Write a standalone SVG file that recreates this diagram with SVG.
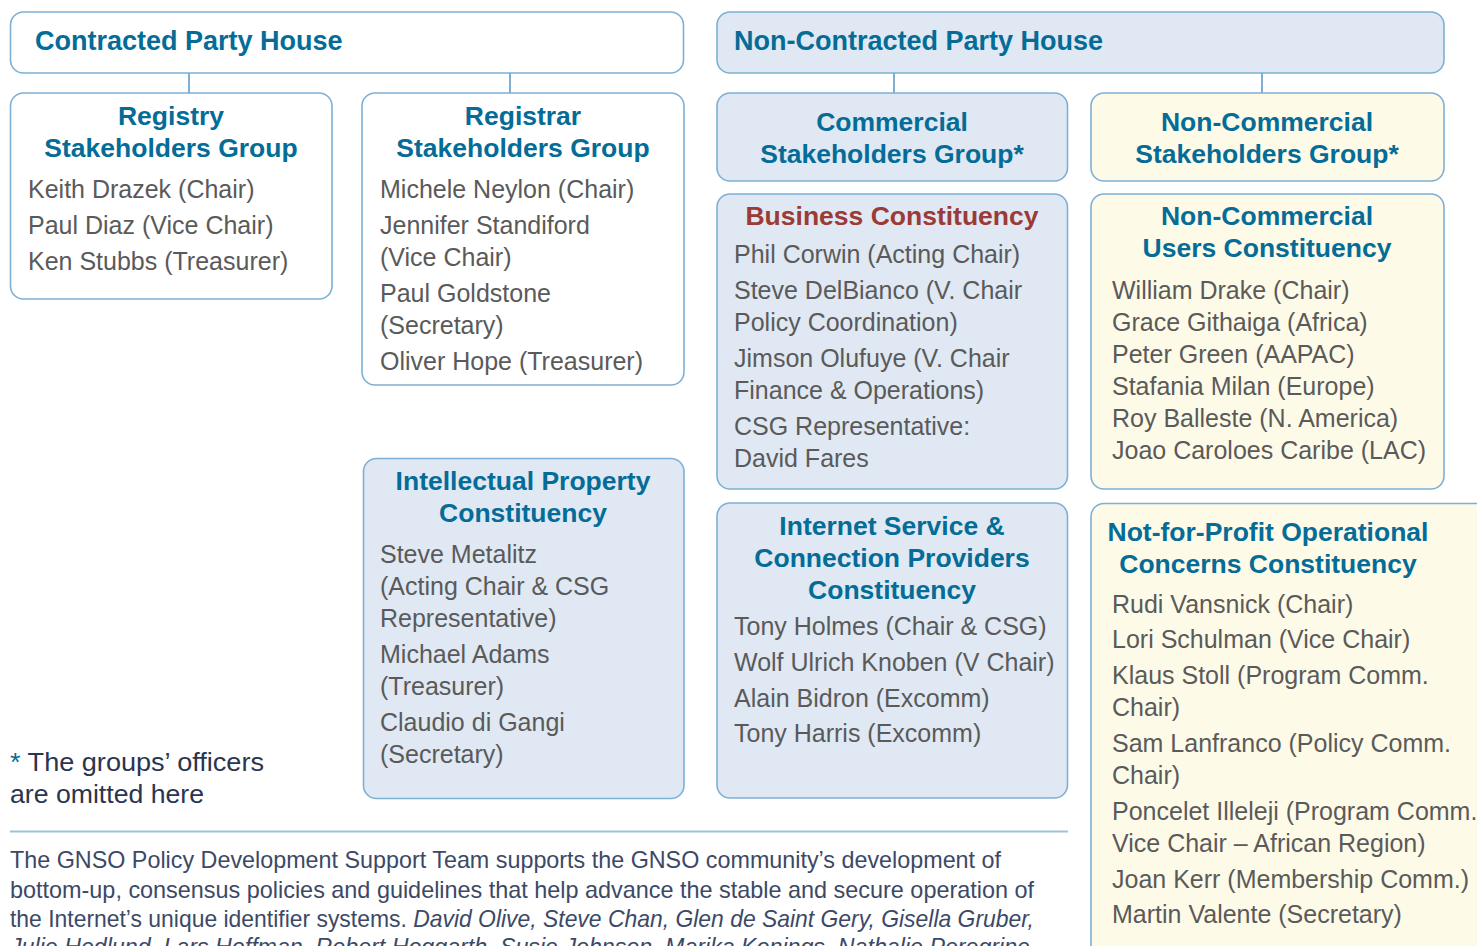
<svg xmlns="http://www.w3.org/2000/svg" width="1477" height="946" viewBox="0 0 1477 946">
<style>
.box{stroke:#7eb0d6;stroke-width:1.6}
.w{fill:#ffffff}
.b{fill:#dfe8f3}
.y{fill:#fefae8}
.h{font-family:"Liberation Sans",Arial,sans-serif;font-weight:bold;font-size:26.5px;fill:#046c97}
.hc{text-anchor:middle}
.red{fill:#9c3a36}
.t{font-family:"Liberation Sans",Arial,sans-serif;font-size:25px;fill:#5a5a5a}
.n{font-family:"Liberation Sans",Arial,sans-serif;font-size:24px;fill:#3c4966}
.f{font-family:"Liberation Sans",Arial,sans-serif;font-size:25px;fill:#2a3550}
.conn{stroke:#7eb0d6;stroke-width:2;fill:none}
</style>
<rect width="1477" height="946" fill="#ffffff"/>
<g id="connectors">
<line class="conn" x1="189" y1="73" x2="189" y2="93"/>
<line class="conn" x1="510" y1="73" x2="510" y2="93"/>
<line class="conn" x1="894" y1="73" x2="894" y2="93"/>
<line class="conn" x1="1262" y1="73" x2="1262" y2="93"/>
</g>
<g id="contracted-house">
<rect class="box w" x="10.5" y="12" width="673" height="61" rx="13"/>
<text class="h" x="35" y="50" style="font-size:27px">Contracted Party House</text>
</g>
<g id="noncontracted-house">
<rect class="box b" x="717" y="12" width="727" height="61" rx="13"/>
<text class="h" x="734" y="50" style="font-size:27px">Non-Contracted Party House</text>
</g>
<g id="registry-sg">
<rect class="box w" x="10.5" y="93" width="321.5" height="206" rx="13"/>
<text class="h hc" x="171" y="125">Registry</text>
<text class="h hc" x="171" y="157">Stakeholders Group</text>
<text class="t" x="28" y="198">Keith Drazek (Chair)</text>
<text class="t" x="28" y="234">Paul Diaz (Vice Chair)</text>
<text class="t" x="28" y="270">Ken Stubbs (Treasurer)</text>
</g>
<g id="registrar-sg">
<rect class="box w" x="362" y="93" width="322" height="292" rx="13"/>
<text class="h hc" x="523" y="125">Registrar</text>
<text class="h hc" x="523" y="157">Stakeholders Group</text>
<text class="t" x="380" y="198">Michele Neylon (Chair)</text>
<text class="t" x="380" y="234">Jennifer Standiford</text>
<text class="t" x="380" y="266">(Vice Chair)</text>
<text class="t" x="380" y="302">Paul Goldstone</text>
<text class="t" x="380" y="334">(Secretary)</text>
<text class="t" x="380" y="370">Oliver Hope (Treasurer)</text>
</g>
<g id="commercial-sg">
<rect class="box b" x="717" y="93" width="350.5" height="88" rx="13"/>
<text class="h hc" x="892" y="131">Commercial</text>
<text class="h hc" x="892" y="163">Stakeholders Group*</text>
</g>
<g id="noncommercial-sg">
<rect class="box y" x="1091" y="93" width="353" height="88" rx="13"/>
<text class="h hc" x="1267" y="131">Non-Commercial</text>
<text class="h hc" x="1267" y="163">Stakeholders Group*</text>
</g>
<g id="business-constituency">
<rect class="box b" x="717" y="194" width="350.5" height="295" rx="13"/>
<text class="h hc red" x="892" y="225">Business Constituency</text>
<text class="t" x="734" y="263">Phil Corwin (Acting Chair)</text>
<text class="t" x="734" y="299">Steve DelBianco (V. Chair</text>
<text class="t" x="734" y="331">Policy Coordination)</text>
<text class="t" x="734" y="367">Jimson Olufuye (V. Chair</text>
<text class="t" x="734" y="399">Finance &amp; Operations)</text>
<text class="t" x="734" y="435">CSG Representative:</text>
<text class="t" x="734" y="467">David Fares</text>
</g>
<g id="ncuc">
<rect class="box y" x="1091" y="194" width="353" height="295" rx="13"/>
<text class="h hc" x="1267" y="225">Non-Commercial</text>
<text class="h hc" x="1267" y="257">Users Constituency</text>
<text class="t" x="1112" y="299">William Drake (Chair)</text>
<text class="t" x="1112" y="331">Grace Githaiga (Africa)</text>
<text class="t" x="1112" y="363">Peter Green (AAPAC)</text>
<text class="t" x="1112" y="395">Stafania Milan (Europe)</text>
<text class="t" x="1112" y="427">Roy Balleste (N. America)</text>
<text class="t" x="1112" y="459">Joao Caroloes Caribe (LAC)</text>
</g>
<g id="ipc">
<rect class="box b" x="363.5" y="458.5" width="320.5" height="340" rx="13"/>
<text class="h hc" x="523" y="490">Intellectual Property</text>
<text class="h hc" x="523" y="522">Constituency</text>
<text class="t" x="380" y="563">Steve Metalitz</text>
<text class="t" x="380" y="595">(Acting Chair &amp; CSG</text>
<text class="t" x="380" y="627">Representative)</text>
<text class="t" x="380" y="663">Michael Adams</text>
<text class="t" x="380" y="695">(Treasurer)</text>
<text class="t" x="380" y="731">Claudio di Gangi</text>
<text class="t" x="380" y="763">(Secretary)</text>
</g>
<g id="ispcp">
<rect class="box b" x="717" y="503" width="350.5" height="295" rx="13"/>
<text class="h hc" x="892" y="535">Internet Service &amp;</text>
<text class="h hc" x="892" y="567">Connection Providers</text>
<text class="h hc" x="892" y="599">Constituency</text>
<text class="t" x="734" y="635">Tony Holmes (Chair &amp; CSG)</text>
<text class="t" x="734" y="671">Wolf Ulrich Knoben (V Chair)</text>
<text class="t" x="734" y="707">Alain Bidron (Excomm)</text>
<text class="t" x="734" y="742">Tony Harris (Excomm)</text>
</g>
<g id="npoc">
<rect class="box y" x="1091" y="503.5" width="420" height="500" rx="13"/>
<text class="h hc" x="1268" y="541">Not-for-Profit Operational</text>
<text class="h hc" x="1268" y="573">Concerns Constituency</text>
<text class="t" x="1112" y="613">Rudi Vansnick (Chair)</text>
<text class="t" x="1112" y="648">Lori Schulman (Vice Chair)</text>
<text class="t" x="1112" y="684">Klaus Stoll (Program Comm.</text>
<text class="t" x="1112" y="716">Chair)</text>
<text class="t" x="1112" y="752">Sam Lanfranco (Policy Comm.</text>
<text class="t" x="1112" y="784">Chair)</text>
<text class="t" x="1112" y="820">Poncelet Illeleji (Program Comm.</text>
<text class="t" x="1112" y="852">Vice Chair – African Region)</text>
<text class="t" x="1112" y="888">Joan Kerr (Membership Comm.)</text>
<text class="t" x="1112" y="923">Martin Valente (Secretary)</text>
</g>
<g id="footnote">
<text class="f" x="10" y="771" textLength="254" lengthAdjust="spacingAndGlyphs"><tspan fill="#046c97">*</tspan> The groups’ officers</text>
<text class="f" x="10" y="803" textLength="194" lengthAdjust="spacingAndGlyphs">are omitted here</text>
</g>
<line x1="10" y1="831.5" x2="1068" y2="831.5" stroke="#9cc2dc" stroke-width="2"/>
<g id="team-text">
<text class="n" x="10" y="868" textLength="991" lengthAdjust="spacingAndGlyphs">The GNSO Policy Development Support Team supports the GNSO community’s development of</text>
<text class="n" x="10" y="898" textLength="1024" lengthAdjust="spacingAndGlyphs">bottom-up, consensus policies and guidelines that help advance the stable and secure operation of</text>
<text class="n" x="10" y="927" textLength="1024" lengthAdjust="spacingAndGlyphs">the Internet’s unique identifier systems. <tspan font-style="italic">David Olive, Steve Chan, Glen de Saint Gery, Gisella Gruber,</tspan></text>
<text class="n" x="10" y="955" textLength="1020" lengthAdjust="spacingAndGlyphs" font-style="italic">Julie Hedlund, Lars Hoffman, Robert Hoggarth, Susie Johnson, Marika Konings, Nathalie Peregrine</text>
</g>
</svg>
